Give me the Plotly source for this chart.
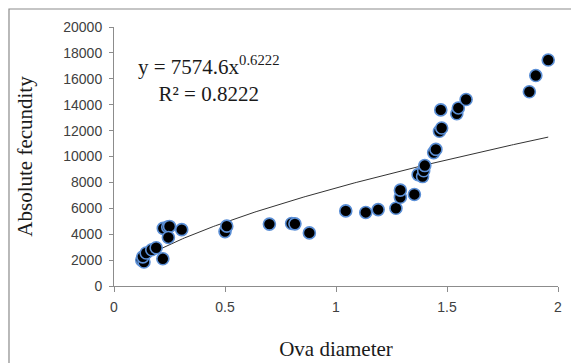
import numpy as np
import plotly.graph_objects as go

# Data
ova_diameter = [0.125, 0.135, 0.13, 0.145, 0.17, 0.19, 0.22,
                0.222, 0.242, 0.25, 0.245, 0.305,
                0.50, 0.508, 0.70, 0.80, 0.815, 0.88,
                1.044, 1.134, 1.19, 1.27, 1.29, 1.29, 1.353,
                1.37, 1.39, 1.395, 1.40, 1.44, 1.45,
                1.466, 1.476, 1.472, 1.544, 1.551, 1.586,
                1.871, 1.90, 1.956]
absolute_fecundity = [2000, 1850, 2250, 2550, 2800, 2950, 2100,
                      4450, 4560, 4600, 3750, 4350,
                      4200, 4620, 4780, 4830, 4800, 4100,
                      5800, 5680, 5900, 6000, 6850, 7400, 7070,
                      8600, 8450, 8900, 9300, 10300, 10550,
                      11950, 12200, 13600, 13300, 13750, 14400,
                      15000, 16250, 17450]

# Power trendline coefficients (y = a * x^b)
trend_a = 7574.6
trend_b = 0.6222
r_squared = 0.8222

x_ticks = [0, 0.5, 1, 1.5, 2]
x_tick_labels = ["0", "0.5", "1", "1.5", "2"]
y_ticks = list(range(0, 20001, 2000))
y_tick_labels = [str(v) for v in y_ticks]

xt = np.linspace(min(ova_diameter), max(ova_diameter), 200)
yt = trend_a * xt ** trend_b

serif = "Liberation Serif, Times New Roman, serif"
sans = "Liberation Sans, Arial, sans-serif"

fig = go.Figure()
fig.add_trace(go.Scatter(
    x=xt, y=yt, mode="lines",
    line=dict(color="#333333", width=1),
    hoverinfo="skip", showlegend=False))
fig.add_trace(go.Scatter(
    x=ova_diameter, y=absolute_fecundity, mode="markers",
    marker=dict(size=12, color="black",
                line=dict(color="#5B8FD6", width=1.6)),
    showlegend=False))

fig.update_layout(
    width=571, height=363,
    margin=dict(l=114, r=13, t=27, b=77),
    paper_bgcolor="white", plot_bgcolor="white",
    xaxis=dict(range=[0, 2], tickvals=x_ticks, ticktext=x_tick_labels,
               showgrid=False, zeroline=False, showline=True,
               linecolor="#8c8c8c", linewidth=1, automargin=False,
               ticks="outside", ticklen=5, tickcolor="#8c8c8c",
               ticklabelstandoff=3,
               tickfont=dict(family=sans, size=14, color="#404040"),
               title=dict(text="Ova diameter",
                          font=dict(family=serif, size=21, color="#1a1a1a"),
                          standoff=27)),
    yaxis=dict(range=[0, 20000], tickvals=y_ticks, ticktext=y_tick_labels,
               showgrid=False, zeroline=False, showline=True,
               linecolor="#8c8c8c", linewidth=1, automargin=False,
               ticks="outside", ticklen=4, tickcolor="#8c8c8c",
               ticklabelstandoff=4,
               tickfont=dict(family=sans, size=14, color="#404040"),
               title=dict(text="Absolute fecundity",
                          font=dict(family=serif, size=21, color="#1a1a1a"),
                          standoff=24)),
    shapes=[dict(type="rect", xref="paper", yref="paper",
                 x0=-0.2365, x1=1.05, y0=-0.35, y1=1.0695,
                 line=dict(color="#8c8c8c", width=1.2),
                 fillcolor="rgba(0,0,0,0)", layer="below")],
    annotations=[dict(
        x=0.212, y=0.80, xref="paper", yref="paper",
        xanchor="center", yanchor="middle",
        text=f"y = {trend_a}x<sup>{trend_b}</sup><br>R² = {r_squared}",
        showarrow=False, align="center",
        font=dict(family=serif, size=21, color="#1a1a1a"))],
)

fig.write_html("out.html", config={"displayModeBar": False},
               post_script="document.body.style.margin='0';")
